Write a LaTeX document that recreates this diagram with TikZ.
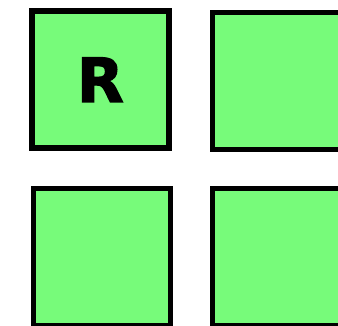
\documentclass[tikz,border=0pt]{standalone}
\usepackage{fontspec}
\setmainfont{DejaVu Sans}
\newfontfamily\heavyfont[FakeBold=2]{DejaVu Sans Bold}
\usepackage{xcolor}
\usepackage{tikz}
\usetikzlibrary{positioning}
\definecolor{leaf}{HTML}{77FB7A}
\tikzset{
  tilebox/.style={draw=black, fill=leaf, line width=5.5pt, minimum size=137pt, inner sep=0pt, font=\fontsize{61}{61}\heavyfont}
}
\begin{document}
\begin{tikzpicture}[x=1pt, y=-1pt]
  \useasboundingbox (0,0) rectangle (338,326);
  \clip (0,0) rectangle (338,326);
  \node[tilebox] (root) at (100.3,79.7) {R};
  \node[tilebox] (topright) at (281,81.2) {};
  \node[tilebox] (botleft) at (101.9,257) {};
  \node[tilebox] (botright) at (281,257) {};
\end{tikzpicture}
\end{document}
